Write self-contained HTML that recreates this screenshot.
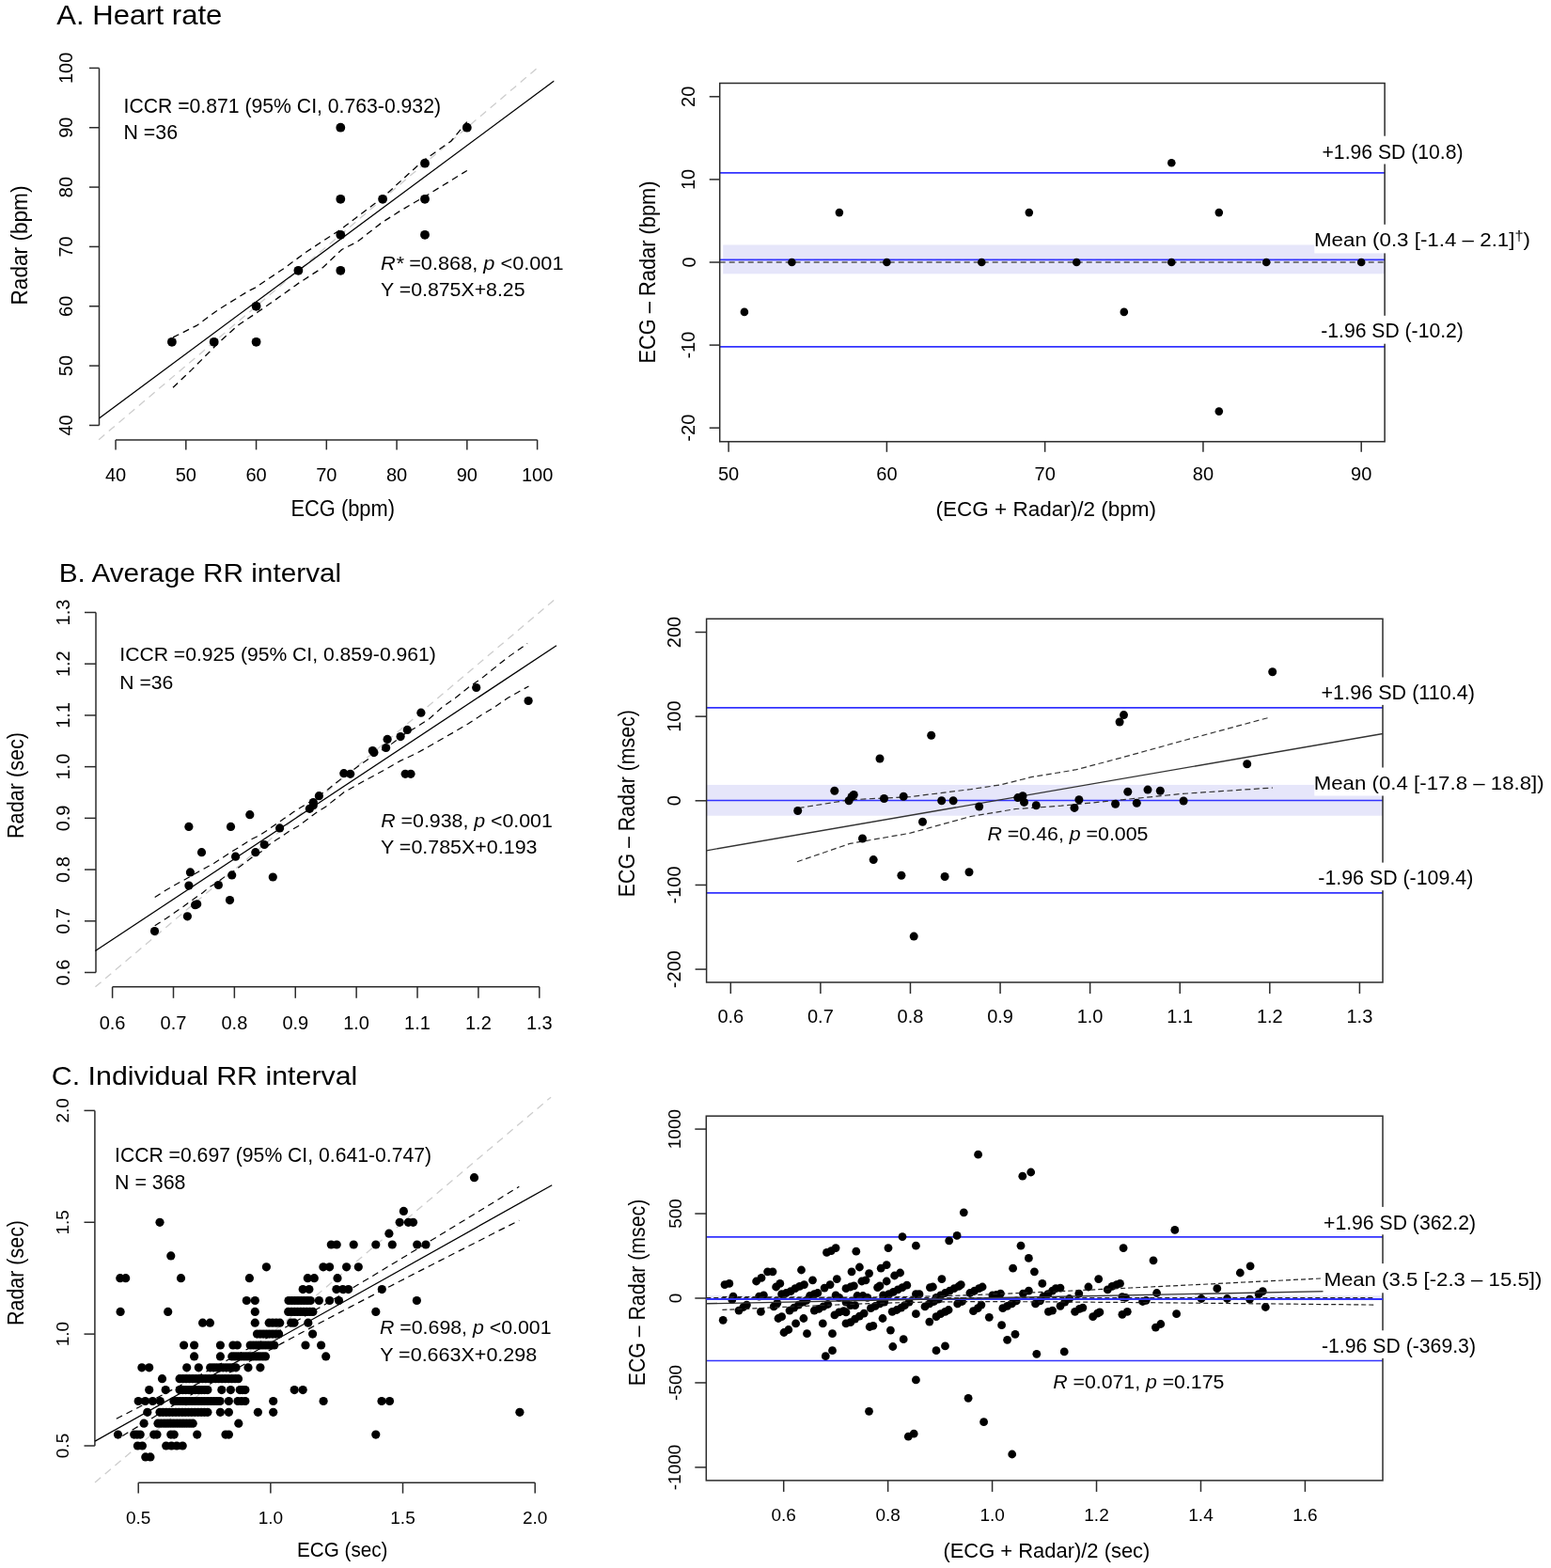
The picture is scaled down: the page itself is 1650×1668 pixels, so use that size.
<!DOCTYPE html>
<html><head><meta charset="utf-8"><title>Heart rate and RR interval agreement: ECG vs Radar</title>
<style>html,body{margin:0;padding:0;background:#fff;} svg{display:block;}</style></head>
<body>
<svg width="1650" height="1668" viewBox="0 0 1650 1668" font-family='"Liberation Sans", Arial, sans-serif' fill="#000">
<rect width="1650" height="1668" fill="#fff"/>
<text x="60.3" y="26.4" font-size="30" textLength="176.0" lengthAdjust="spacingAndGlyphs">A. Heart rate</text>
<line x1="105.50" y1="452.45" x2="105.50" y2="72.40" stroke="#2b2b2b" stroke-width="1.5"/>
<line x1="95.00" y1="452.45" x2="105.50" y2="452.45" stroke="#2b2b2b" stroke-width="1.5"/>
<text x="77.0" y="452.4" font-size="20" text-anchor="middle" transform="rotate(-90 77.0 452.4)">40</text>
<line x1="95.00" y1="389.11" x2="105.50" y2="389.11" stroke="#2b2b2b" stroke-width="1.5"/>
<text x="77.0" y="389.1" font-size="20" text-anchor="middle" transform="rotate(-90 77.0 389.1)">50</text>
<line x1="95.00" y1="325.77" x2="105.50" y2="325.77" stroke="#2b2b2b" stroke-width="1.5"/>
<text x="77.0" y="325.8" font-size="20" text-anchor="middle" transform="rotate(-90 77.0 325.8)">60</text>
<line x1="95.00" y1="262.43" x2="105.50" y2="262.43" stroke="#2b2b2b" stroke-width="1.5"/>
<text x="77.0" y="262.4" font-size="20" text-anchor="middle" transform="rotate(-90 77.0 262.4)">70</text>
<line x1="95.00" y1="199.08" x2="105.50" y2="199.08" stroke="#2b2b2b" stroke-width="1.5"/>
<text x="77.0" y="199.1" font-size="20" text-anchor="middle" transform="rotate(-90 77.0 199.1)">80</text>
<line x1="95.00" y1="135.74" x2="105.50" y2="135.74" stroke="#2b2b2b" stroke-width="1.5"/>
<text x="77.0" y="135.7" font-size="20" text-anchor="middle" transform="rotate(-90 77.0 135.7)">90</text>
<line x1="95.00" y1="72.40" x2="105.50" y2="72.40" stroke="#2b2b2b" stroke-width="1.5"/>
<text x="77.0" y="72.4" font-size="20" text-anchor="middle" transform="rotate(-90 77.0 72.4)">100</text>
<line x1="123.05" y1="467.90" x2="571.60" y2="467.90" stroke="#2b2b2b" stroke-width="1.5"/>
<line x1="123.05" y1="467.90" x2="123.05" y2="478.40" stroke="#2b2b2b" stroke-width="1.5"/>
<text x="123.1" y="511.6" font-size="20" text-anchor="middle">40</text>
<line x1="197.81" y1="467.90" x2="197.81" y2="478.40" stroke="#2b2b2b" stroke-width="1.5"/>
<text x="197.8" y="511.6" font-size="20" text-anchor="middle">50</text>
<line x1="272.57" y1="467.90" x2="272.57" y2="478.40" stroke="#2b2b2b" stroke-width="1.5"/>
<text x="272.6" y="511.6" font-size="20" text-anchor="middle">60</text>
<line x1="347.32" y1="467.90" x2="347.32" y2="478.40" stroke="#2b2b2b" stroke-width="1.5"/>
<text x="347.3" y="511.6" font-size="20" text-anchor="middle">70</text>
<line x1="422.08" y1="467.90" x2="422.08" y2="478.40" stroke="#2b2b2b" stroke-width="1.5"/>
<text x="422.1" y="511.6" font-size="20" text-anchor="middle">80</text>
<line x1="496.84" y1="467.90" x2="496.84" y2="478.40" stroke="#2b2b2b" stroke-width="1.5"/>
<text x="496.8" y="511.6" font-size="20" text-anchor="middle">90</text>
<line x1="571.60" y1="467.90" x2="571.60" y2="478.40" stroke="#2b2b2b" stroke-width="1.5"/>
<text x="571.6" y="511.6" font-size="20" text-anchor="middle">100</text>
<clipPath id="cA"><rect x="105.5" y="57.2" width="484.0" height="410.4"/></clipPath>
<line x1="105.11" y1="467.65" x2="571.60" y2="72.40" stroke="#cdcdcd" stroke-width="1.3" stroke-dasharray="8,6"/>
<g clip-path="url(#cA)">
<line x1="105.11" y1="445.17" x2="589.54" y2="86.02" stroke="#000" stroke-width="1.3"/>
</g>
<polyline points="184.0,358.9 209.1,346.4 232.7,329.1 263.6,310.0 270.9,306.4 303.6,284.5 325.5,268.2 361.8,244.5 407.3,210.0 449.1,171.8 480.0,150.0 496.8,129.6" fill="none" stroke="#000" stroke-width="1.3" stroke-dasharray="7,5"/>
<polyline points="184.0,412.3 203.6,393.6 232.7,364.5 252.7,346.4 274.5,331.8 292.7,319.1 318.2,300.9 343.6,284.5 363.6,265.5 380.0,257.3 405.5,237.3 425.5,224.5 445.5,212.7 456.4,206.4 480.0,191.8 496.8,181.5" fill="none" stroke="#000" stroke-width="1.3" stroke-dasharray="7,5"/>
<circle cx="182.9" cy="363.8" r="4.9"/>
<circle cx="227.7" cy="363.8" r="4.9"/>
<circle cx="272.6" cy="363.8" r="4.9"/>
<circle cx="272.6" cy="325.8" r="4.9"/>
<circle cx="317.4" cy="287.8" r="4.9"/>
<circle cx="362.3" cy="287.8" r="4.9"/>
<circle cx="362.3" cy="249.8" r="4.9"/>
<circle cx="362.3" cy="211.8" r="4.9"/>
<circle cx="362.3" cy="135.7" r="4.9"/>
<circle cx="407.1" cy="211.8" r="4.9"/>
<circle cx="452.0" cy="211.8" r="4.9"/>
<circle cx="452.0" cy="249.8" r="4.9"/>
<circle cx="452.0" cy="173.7" r="4.9"/>
<circle cx="496.8" cy="135.7" r="4.9"/>
<text x="131.5" y="119.8" font-size="21.7" textLength="337.5" lengthAdjust="spacingAndGlyphs">ICCR =0.871 (95% CI, 0.763-0.932)</text>
<text x="131.5" y="148.0" font-size="21.7" textLength="57.5" lengthAdjust="spacingAndGlyphs">N =36</text>
<text x="405.0" y="286.7" font-size="21" textLength="194.5" lengthAdjust="spacingAndGlyphs"><tspan font-style="italic">R*</tspan> =0.868, <tspan font-style="italic">p</tspan> &lt;0.001</text>
<text x="405.0" y="315.3" font-size="21" textLength="153.5" lengthAdjust="spacingAndGlyphs">Y =0.875X+8.25</text>
<text x="309.5" y="548.5" font-size="23" textLength="110.5" lengthAdjust="spacingAndGlyphs">ECG (bpm)</text>
<text x="29.3" y="261.0" font-size="23" text-anchor="middle" textLength="127.0" lengthAdjust="spacingAndGlyphs" transform="rotate(-90 29.3 261.0)">Radar (bpm)</text>
<clipPath id="cAr"><rect x="765.7" y="88.5" width="707.4" height="381.3"/></clipPath>
<rect x="769.2" y="260.5" width="703.9" height="30.8" fill="#e6e6fa"/>
<line x1="765.70" y1="183.85" x2="1473.10" y2="183.85" stroke="#3333ff" stroke-width="1.6"/>
<line x1="765.70" y1="368.86" x2="1473.10" y2="368.86" stroke="#3333ff" stroke-width="1.6"/>
<line x1="765.70" y1="276.36" x2="1473.10" y2="276.36" stroke="#3333ff" stroke-width="1.6"/>
<line x1="765.70" y1="279.00" x2="1473.10" y2="279.00" stroke="#555" stroke-width="1.3" stroke-dasharray="6,4"/>
<rect x="765.7" y="88.5" width="707.4" height="381.3" fill="none" stroke="#2b2b2b" stroke-width="1.5"/>
<line x1="754.70" y1="455.20" x2="765.70" y2="455.20" stroke="#2b2b2b" stroke-width="1.5"/>
<text x="739.5" y="455.2" font-size="20" text-anchor="middle" transform="rotate(-90 739.5 455.2)">-20</text>
<line x1="754.70" y1="367.10" x2="765.70" y2="367.10" stroke="#2b2b2b" stroke-width="1.5"/>
<text x="739.5" y="367.1" font-size="20" text-anchor="middle" transform="rotate(-90 739.5 367.1)">-10</text>
<line x1="754.70" y1="279.00" x2="765.70" y2="279.00" stroke="#2b2b2b" stroke-width="1.5"/>
<text x="739.5" y="279.0" font-size="20" text-anchor="middle" transform="rotate(-90 739.5 279.0)">0</text>
<line x1="754.70" y1="190.90" x2="765.70" y2="190.90" stroke="#2b2b2b" stroke-width="1.5"/>
<text x="739.5" y="190.9" font-size="20" text-anchor="middle" transform="rotate(-90 739.5 190.9)">10</text>
<line x1="754.70" y1="102.80" x2="765.70" y2="102.80" stroke="#2b2b2b" stroke-width="1.5"/>
<text x="739.5" y="102.8" font-size="20" text-anchor="middle" transform="rotate(-90 739.5 102.8)">20</text>
<line x1="775.10" y1="469.80" x2="775.10" y2="480.80" stroke="#2b2b2b" stroke-width="1.5"/>
<text x="775.1" y="511.0" font-size="20" text-anchor="middle">50</text>
<line x1="943.38" y1="469.80" x2="943.38" y2="480.80" stroke="#2b2b2b" stroke-width="1.5"/>
<text x="943.4" y="511.0" font-size="20" text-anchor="middle">60</text>
<line x1="1111.65" y1="469.80" x2="1111.65" y2="480.80" stroke="#2b2b2b" stroke-width="1.5"/>
<text x="1111.7" y="511.0" font-size="20" text-anchor="middle">70</text>
<line x1="1279.93" y1="469.80" x2="1279.93" y2="480.80" stroke="#2b2b2b" stroke-width="1.5"/>
<text x="1279.9" y="511.0" font-size="20" text-anchor="middle">80</text>
<line x1="1448.20" y1="469.80" x2="1448.20" y2="480.80" stroke="#2b2b2b" stroke-width="1.5"/>
<text x="1448.2" y="511.0" font-size="20" text-anchor="middle">90</text>
<circle cx="791.9" cy="331.9" r="4.3"/>
<circle cx="842.4" cy="279.0" r="4.3"/>
<circle cx="892.9" cy="226.1" r="4.3"/>
<circle cx="943.4" cy="279.0" r="4.3"/>
<circle cx="1044.3" cy="279.0" r="4.3"/>
<circle cx="1094.8" cy="226.1" r="4.3"/>
<circle cx="1145.3" cy="279.0" r="4.3"/>
<circle cx="1195.8" cy="331.9" r="4.3"/>
<circle cx="1246.3" cy="173.3" r="4.3"/>
<circle cx="1246.3" cy="279.0" r="4.3"/>
<circle cx="1296.8" cy="226.1" r="4.3"/>
<circle cx="1296.8" cy="437.6" r="4.3"/>
<circle cx="1347.2" cy="279.0" r="4.3"/>
<circle cx="1448.2" cy="279.0" r="4.3"/>
<rect x="1404.0" y="144.7" width="156.0" height="29.8" fill="#fff"/>
<text x="1406.5" y="168.9" font-size="22" textLength="150.0" lengthAdjust="spacingAndGlyphs">+1.96 SD (10.8)</text>
<rect x="1398.3" y="238.8" width="233.7" height="30.6" fill="#fff"/>
<text x="1398.0" y="262.2" font-size="20.5" textLength="230" lengthAdjust="spacingAndGlyphs">Mean (0.3 [-1.4 – 2.1]<tspan font-size="15" dy="-6">†</tspan><tspan dy="6">)</tspan></text>
<rect x="1403.0" y="335.8" width="157.0" height="29.9" fill="#fff"/>
<text x="1405.3" y="358.6" font-size="22" textLength="151.5" lengthAdjust="spacingAndGlyphs">-1.96 SD (-10.2)</text>
<text x="995.6" y="548.5" font-size="22.5" textLength="234.5" lengthAdjust="spacingAndGlyphs">(ECG + Radar)/2 (bpm)</text>
<text x="697.0" y="289.5" font-size="24" text-anchor="middle" textLength="194.0" lengthAdjust="spacingAndGlyphs" transform="rotate(-90 697.0 289.5)">ECG – Radar (bpm)</text>
<text x="62.7" y="619.3" font-size="28" textLength="300.5" lengthAdjust="spacingAndGlyphs">B. Average RR interval</text>
<line x1="102.00" y1="1034.50" x2="102.00" y2="651.50" stroke="#2b2b2b" stroke-width="1.5"/>
<line x1="90.00" y1="1034.50" x2="102.00" y2="1034.50" stroke="#2b2b2b" stroke-width="1.5"/>
<text x="73.8" y="1034.5" font-size="20" text-anchor="middle" transform="rotate(-90 73.8 1034.5)">0.6</text>
<line x1="90.00" y1="979.79" x2="102.00" y2="979.79" stroke="#2b2b2b" stroke-width="1.5"/>
<text x="73.8" y="979.8" font-size="20" text-anchor="middle" transform="rotate(-90 73.8 979.8)">0.7</text>
<line x1="90.00" y1="925.07" x2="102.00" y2="925.07" stroke="#2b2b2b" stroke-width="1.5"/>
<text x="73.8" y="925.1" font-size="20" text-anchor="middle" transform="rotate(-90 73.8 925.1)">0.8</text>
<line x1="90.00" y1="870.36" x2="102.00" y2="870.36" stroke="#2b2b2b" stroke-width="1.5"/>
<text x="73.8" y="870.4" font-size="20" text-anchor="middle" transform="rotate(-90 73.8 870.4)">0.9</text>
<line x1="90.00" y1="815.64" x2="102.00" y2="815.64" stroke="#2b2b2b" stroke-width="1.5"/>
<text x="73.8" y="815.6" font-size="20" text-anchor="middle" transform="rotate(-90 73.8 815.6)">1.0</text>
<line x1="90.00" y1="760.93" x2="102.00" y2="760.93" stroke="#2b2b2b" stroke-width="1.5"/>
<text x="73.8" y="760.9" font-size="20" text-anchor="middle" transform="rotate(-90 73.8 760.9)">1.1</text>
<line x1="90.00" y1="706.21" x2="102.00" y2="706.21" stroke="#2b2b2b" stroke-width="1.5"/>
<text x="73.8" y="706.2" font-size="20" text-anchor="middle" transform="rotate(-90 73.8 706.2)">1.2</text>
<line x1="90.00" y1="651.50" x2="102.00" y2="651.50" stroke="#2b2b2b" stroke-width="1.5"/>
<text x="73.8" y="651.5" font-size="20" text-anchor="middle" transform="rotate(-90 73.8 651.5)">1.3</text>
<line x1="119.60" y1="1049.80" x2="573.80" y2="1049.80" stroke="#2b2b2b" stroke-width="1.5"/>
<line x1="119.60" y1="1049.80" x2="119.60" y2="1061.80" stroke="#2b2b2b" stroke-width="1.5"/>
<text x="119.6" y="1094.6" font-size="20" text-anchor="middle">0.6</text>
<line x1="184.49" y1="1049.80" x2="184.49" y2="1061.80" stroke="#2b2b2b" stroke-width="1.5"/>
<text x="184.5" y="1094.6" font-size="20" text-anchor="middle">0.7</text>
<line x1="249.37" y1="1049.80" x2="249.37" y2="1061.80" stroke="#2b2b2b" stroke-width="1.5"/>
<text x="249.4" y="1094.6" font-size="20" text-anchor="middle">0.8</text>
<line x1="314.26" y1="1049.80" x2="314.26" y2="1061.80" stroke="#2b2b2b" stroke-width="1.5"/>
<text x="314.3" y="1094.6" font-size="20" text-anchor="middle">0.9</text>
<line x1="379.14" y1="1049.80" x2="379.14" y2="1061.80" stroke="#2b2b2b" stroke-width="1.5"/>
<text x="379.1" y="1094.6" font-size="20" text-anchor="middle">1.0</text>
<line x1="444.03" y1="1049.80" x2="444.03" y2="1061.80" stroke="#2b2b2b" stroke-width="1.5"/>
<text x="444.0" y="1094.6" font-size="20" text-anchor="middle">1.1</text>
<line x1="508.91" y1="1049.80" x2="508.91" y2="1061.80" stroke="#2b2b2b" stroke-width="1.5"/>
<text x="508.9" y="1094.6" font-size="20" text-anchor="middle">1.2</text>
<line x1="573.80" y1="1049.80" x2="573.80" y2="1061.80" stroke="#2b2b2b" stroke-width="1.5"/>
<text x="573.8" y="1094.6" font-size="20" text-anchor="middle">1.3</text>
<line x1="101.43" y1="1049.82" x2="593.27" y2="635.09" stroke="#cdcdcd" stroke-width="1.3" stroke-dasharray="8,6"/>
<line x1="101.43" y1="1011.51" x2="591.97" y2="686.80" stroke="#000" stroke-width="1.3"/>
<polyline points="164.7,954.5 176.8,946.7 187.7,940.6 197.4,935.2 205.9,930.3 216.8,924.2 227.7,918.2 237.4,912.1 247.1,905.5 255.6,900.6 266.5,893.3 276.2,888.5 284.7,883.0 293.2,877.0 302.9,870.3 312.6,863.6 322.3,857.6 329.5,853.3 349.2,839.4 365.9,826.1 381.2,815.0 398.0,803.1 414.7,792.7 431.4,780.1 442.6,773.8 456.5,764.8 470.5,752.2 484.4,742.5 498.3,731.3 512.3,721.6 526.2,710.4 540.1,699.3 561.1,684.6" fill="none" stroke="#000" stroke-width="1.2" stroke-dasharray="7,5"/>
<polyline points="164.7,984.8 176.8,977.0 186.5,970.3 196.2,963.6 205.9,956.4 215.6,949.7 222.9,943.6 230.2,939.4 239.8,932.1 249.5,926.1 259.2,918.8 268.9,911.5 278.6,905.5 288.3,897.0 298.0,890.9 307.7,884.2 317.4,878.8 327.1,871.5 336.8,864.2 346.5,858.2 365.9,842.8 386.8,831.0 407.7,819.8 425.8,809.4 442.6,801.7 463.5,789.9 484.4,778.0 498.3,769.7 512.3,760.6 526.2,752.2 540.1,742.5 551.3,736.2 562.5,729.9" fill="none" stroke="#000" stroke-width="1.2" stroke-dasharray="7,5"/>
<circle cx="164.5" cy="990.6" r="4.6"/>
<circle cx="199.4" cy="974.8" r="4.6"/>
<circle cx="207.6" cy="962.7" r="4.6"/>
<circle cx="209.7" cy="961.8" r="4.6"/>
<circle cx="244.5" cy="957.6" r="4.6"/>
<circle cx="200.9" cy="942.1" r="4.6"/>
<circle cx="232.4" cy="941.5" r="4.6"/>
<circle cx="202.4" cy="927.9" r="4.6"/>
<circle cx="246.7" cy="930.9" r="4.6"/>
<circle cx="290.3" cy="933.0" r="4.6"/>
<circle cx="214.5" cy="906.7" r="4.6"/>
<circle cx="250.6" cy="911.2" r="4.6"/>
<circle cx="271.8" cy="906.7" r="4.6"/>
<circle cx="281.2" cy="898.5" r="4.6"/>
<circle cx="297.6" cy="880.9" r="4.6"/>
<circle cx="200.9" cy="879.4" r="4.6"/>
<circle cx="245.5" cy="879.4" r="4.6"/>
<circle cx="265.8" cy="866.7" r="4.6"/>
<circle cx="329.4" cy="860.3" r="4.6"/>
<circle cx="333.3" cy="856.7" r="4.6"/>
<circle cx="333.3" cy="853.6" r="4.6"/>
<circle cx="339.4" cy="846.7" r="4.6"/>
<circle cx="365.8" cy="822.7" r="4.6"/>
<circle cx="372.7" cy="823.3" r="4.6"/>
<circle cx="396.4" cy="798.5" r="4.6"/>
<circle cx="397.9" cy="800.6" r="4.6"/>
<circle cx="410.6" cy="795.5" r="4.6"/>
<circle cx="412.1" cy="786.4" r="4.6"/>
<circle cx="426.1" cy="783.6" r="4.6"/>
<circle cx="433.3" cy="776.4" r="4.6"/>
<circle cx="431.2" cy="823.3" r="4.6"/>
<circle cx="437.0" cy="823.3" r="4.6"/>
<circle cx="447.9" cy="758.2" r="4.6"/>
<circle cx="506.7" cy="731.5" r="4.6"/>
<circle cx="562.1" cy="745.5" r="4.6"/>
<text x="127.3" y="703.3" font-size="20" textLength="336.5" lengthAdjust="spacingAndGlyphs">ICCR =0.925 (95% CI, 0.859-0.961)</text>
<text x="127.3" y="732.5" font-size="20" textLength="57.0" lengthAdjust="spacingAndGlyphs">N =36</text>
<text x="405.3" y="879.8" font-size="20.5" textLength="182.5" lengthAdjust="spacingAndGlyphs"><tspan font-style="italic">R</tspan> =0.938, <tspan font-style="italic">p</tspan> &lt;0.001</text>
<text x="405.0" y="908.3" font-size="20.5" textLength="166.5" lengthAdjust="spacingAndGlyphs">Y =0.785X+0.193</text>
<text x="24.7" y="835.5" font-size="23.5" text-anchor="middle" textLength="113.0" lengthAdjust="spacingAndGlyphs" transform="rotate(-90 24.7 835.5)">Radar (sec)</text>
<rect x="751.6" y="834.9" width="719.4" height="32.8" fill="#e6e6fa"/>
<line x1="751.60" y1="752.83" x2="1471.00" y2="752.83" stroke="#3333ff" stroke-width="1.6"/>
<line x1="751.60" y1="949.88" x2="1471.00" y2="949.88" stroke="#3333ff" stroke-width="1.6"/>
<line x1="751.60" y1="851.44" x2="1471.00" y2="851.44" stroke="#3333ff" stroke-width="1.6"/>
<rect x="751.6" y="658.3" width="719.4" height="386.7" fill="none" stroke="#2b2b2b" stroke-width="1.5"/>
<line x1="739.60" y1="1031.10" x2="751.60" y2="1031.10" stroke="#2b2b2b" stroke-width="1.5"/>
<text x="724.4" y="1031.1" font-size="20" text-anchor="middle" transform="rotate(-90 724.4 1031.1)">-200</text>
<line x1="739.60" y1="941.45" x2="751.60" y2="941.45" stroke="#2b2b2b" stroke-width="1.5"/>
<text x="724.4" y="941.4" font-size="20" text-anchor="middle" transform="rotate(-90 724.4 941.4)">-100</text>
<line x1="739.60" y1="851.80" x2="751.60" y2="851.80" stroke="#2b2b2b" stroke-width="1.5"/>
<text x="724.4" y="851.8" font-size="20" text-anchor="middle" transform="rotate(-90 724.4 851.8)">0</text>
<line x1="739.60" y1="762.15" x2="751.60" y2="762.15" stroke="#2b2b2b" stroke-width="1.5"/>
<text x="724.4" y="762.1" font-size="20" text-anchor="middle" transform="rotate(-90 724.4 762.1)">100</text>
<line x1="739.60" y1="672.50" x2="751.60" y2="672.50" stroke="#2b2b2b" stroke-width="1.5"/>
<text x="724.4" y="672.5" font-size="20" text-anchor="middle" transform="rotate(-90 724.4 672.5)">200</text>
<line x1="777.30" y1="1045.00" x2="777.30" y2="1057.00" stroke="#2b2b2b" stroke-width="1.5"/>
<text x="777.3" y="1087.7" font-size="20" text-anchor="middle">0.6</text>
<line x1="872.89" y1="1045.00" x2="872.89" y2="1057.00" stroke="#2b2b2b" stroke-width="1.5"/>
<text x="872.9" y="1087.7" font-size="20" text-anchor="middle">0.7</text>
<line x1="968.47" y1="1045.00" x2="968.47" y2="1057.00" stroke="#2b2b2b" stroke-width="1.5"/>
<text x="968.5" y="1087.7" font-size="20" text-anchor="middle">0.8</text>
<line x1="1064.06" y1="1045.00" x2="1064.06" y2="1057.00" stroke="#2b2b2b" stroke-width="1.5"/>
<text x="1064.1" y="1087.7" font-size="20" text-anchor="middle">0.9</text>
<line x1="1159.64" y1="1045.00" x2="1159.64" y2="1057.00" stroke="#2b2b2b" stroke-width="1.5"/>
<text x="1159.6" y="1087.7" font-size="20" text-anchor="middle">1.0</text>
<line x1="1255.23" y1="1045.00" x2="1255.23" y2="1057.00" stroke="#2b2b2b" stroke-width="1.5"/>
<text x="1255.2" y="1087.7" font-size="20" text-anchor="middle">1.1</text>
<line x1="1350.81" y1="1045.00" x2="1350.81" y2="1057.00" stroke="#2b2b2b" stroke-width="1.5"/>
<text x="1350.8" y="1087.7" font-size="20" text-anchor="middle">1.2</text>
<line x1="1446.40" y1="1045.00" x2="1446.40" y2="1057.00" stroke="#2b2b2b" stroke-width="1.5"/>
<text x="1446.4" y="1087.7" font-size="20" text-anchor="middle">1.3</text>
<line x1="751.60" y1="904.80" x2="1471.00" y2="780.50" stroke="#333" stroke-width="1.3"/>
<polyline points="849.6,859.5 904.2,850.8 968.5,847.6 1032.7,839.6 1064.9,834.8 1097.0,826.7 1145.2,818.7 1193.4,805.9 1257.6,788.2 1350.8,763.1" fill="none" stroke="#333" stroke-width="1.2" stroke-dasharray="6,3.5"/>
<polyline points="848.0,916.7 904.2,897.4 968.5,886.2 1032.7,868.5 1080.9,860.5 1129.1,857.2 1193.4,850.8 1257.6,844.4 1354.0,838.0" fill="none" stroke="#333" stroke-width="1.2" stroke-dasharray="6,3.5"/>
<circle cx="848.7" cy="862.5" r="4.5"/>
<circle cx="887.8" cy="841.3" r="4.5"/>
<circle cx="903.1" cy="851.8" r="4.5"/>
<circle cx="906.1" cy="847.5" r="4.5"/>
<circle cx="908.3" cy="845.5" r="4.5"/>
<circle cx="936.0" cy="807.0" r="4.5"/>
<circle cx="940.5" cy="849.5" r="4.5"/>
<circle cx="961.2" cy="847.3" r="4.5"/>
<circle cx="990.7" cy="782.2" r="4.5"/>
<circle cx="1001.7" cy="851.8" r="4.5"/>
<circle cx="1014.1" cy="851.8" r="4.5"/>
<circle cx="1041.7" cy="858.0" r="4.5"/>
<circle cx="981.5" cy="874.2" r="4.5"/>
<circle cx="917.5" cy="892.0" r="4.5"/>
<circle cx="929.2" cy="914.6" r="4.5"/>
<circle cx="958.9" cy="931.2" r="4.5"/>
<circle cx="1005.1" cy="932.5" r="4.5"/>
<circle cx="1031.0" cy="927.8" r="4.5"/>
<circle cx="972.2" cy="996.1" r="4.5"/>
<circle cx="1353.7" cy="714.8" r="4.5"/>
<circle cx="1195.5" cy="760.6" r="4.5"/>
<circle cx="1191.1" cy="768.0" r="4.5"/>
<circle cx="1326.7" cy="812.8" r="4.5"/>
<circle cx="1082.8" cy="848.6" r="4.5"/>
<circle cx="1088.0" cy="846.8" r="4.5"/>
<circle cx="1089.5" cy="853.4" r="4.5"/>
<circle cx="1102.3" cy="856.8" r="4.5"/>
<circle cx="1143.0" cy="859.4" r="4.5"/>
<circle cx="1147.9" cy="850.8" r="4.5"/>
<circle cx="1186.6" cy="855.3" r="4.5"/>
<circle cx="1199.8" cy="842.3" r="4.5"/>
<circle cx="1209.3" cy="854.2" r="4.5"/>
<circle cx="1221.0" cy="840.1" r="4.5"/>
<circle cx="1234.3" cy="841.2" r="4.5"/>
<circle cx="1259.1" cy="852.0" r="4.5"/>
<rect x="1404.5" y="720.5" width="167.5" height="29.4" fill="#fff"/>
<text x="1405.5" y="743.9" font-size="22" textLength="163.5" lengthAdjust="spacingAndGlyphs">+1.96 SD (110.4)</text>
<rect x="1398.3" y="816.5" width="247.7" height="30.0" fill="#fff"/>
<text x="1397.7" y="840.4" font-size="21" textLength="245.0" lengthAdjust="spacingAndGlyphs">Mean (0.4 [-17.8 – 18.8])</text>
<rect x="1400.5" y="917.6" width="169.5" height="29.6" fill="#fff"/>
<text x="1402.3" y="941.4" font-size="22" textLength="165.0" lengthAdjust="spacingAndGlyphs">-1.96 SD (-109.4)</text>
<text x="1050.5" y="894.0" font-size="20.5" textLength="171.0" lengthAdjust="spacingAndGlyphs"><tspan font-style="italic">R</tspan> =0.46, <tspan font-style="italic">p</tspan> =0.005</text>
<text x="675.5" y="854.7" font-size="23.5" text-anchor="middle" textLength="199.0" lengthAdjust="spacingAndGlyphs" transform="rotate(-90 675.5 854.7)">ECG – Radar (msec)</text>
<text x="54.8" y="1153.8" font-size="28.5" textLength="325.5" lengthAdjust="spacingAndGlyphs">C. Individual RR interval</text>
<line x1="100.90" y1="1538.00" x2="100.90" y2="1181.40" stroke="#2b2b2b" stroke-width="1.5"/>
<line x1="89.50" y1="1538.00" x2="100.90" y2="1538.00" stroke="#2b2b2b" stroke-width="1.5"/>
<text x="73.2" y="1538.0" font-size="19" text-anchor="middle" transform="rotate(-90 73.2 1538.0)">0.5</text>
<line x1="89.50" y1="1419.13" x2="100.90" y2="1419.13" stroke="#2b2b2b" stroke-width="1.5"/>
<text x="73.2" y="1419.1" font-size="19" text-anchor="middle" transform="rotate(-90 73.2 1419.1)">1.0</text>
<line x1="89.50" y1="1300.27" x2="100.90" y2="1300.27" stroke="#2b2b2b" stroke-width="1.5"/>
<text x="73.2" y="1300.3" font-size="19" text-anchor="middle" transform="rotate(-90 73.2 1300.3)">1.5</text>
<line x1="89.50" y1="1181.40" x2="100.90" y2="1181.40" stroke="#2b2b2b" stroke-width="1.5"/>
<text x="73.2" y="1181.4" font-size="19" text-anchor="middle" transform="rotate(-90 73.2 1181.4)">2.0</text>
<line x1="147.20" y1="1577.20" x2="569.20" y2="1577.20" stroke="#2b2b2b" stroke-width="1.5"/>
<line x1="147.20" y1="1577.20" x2="147.20" y2="1588.60" stroke="#2b2b2b" stroke-width="1.5"/>
<text x="147.2" y="1621.2" font-size="19" text-anchor="middle">0.5</text>
<line x1="287.87" y1="1577.20" x2="287.87" y2="1588.60" stroke="#2b2b2b" stroke-width="1.5"/>
<text x="287.9" y="1621.2" font-size="19" text-anchor="middle">1.0</text>
<line x1="428.53" y1="1577.20" x2="428.53" y2="1588.60" stroke="#2b2b2b" stroke-width="1.5"/>
<text x="428.5" y="1621.2" font-size="19" text-anchor="middle">1.5</text>
<line x1="569.20" y1="1577.20" x2="569.20" y2="1588.60" stroke="#2b2b2b" stroke-width="1.5"/>
<text x="569.2" y="1621.2" font-size="19" text-anchor="middle">2.0</text>
<line x1="101.06" y1="1576.99" x2="586.08" y2="1167.14" stroke="#cdcdcd" stroke-width="1.3" stroke-dasharray="8,6"/>
<line x1="101.06" y1="1533.06" x2="587.21" y2="1260.70" stroke="#000" stroke-width="1.3"/>
<polyline points="123.8,1509.3 134.6,1503.7 145.3,1498.2 156.0,1492.6 166.7,1487.0 177.4,1481.4 188.1,1475.8 198.8,1470.1 209.5,1464.4 220.3,1458.6 231.0,1452.8 241.7,1447.0 252.4,1441.1 263.1,1435.2 273.8,1429.2 284.5,1423.1 295.2,1417.0 305.9,1410.8 316.7,1404.6 327.4,1398.4 338.1,1392.1 348.8,1385.8 359.5,1379.4 370.2,1373.0 380.9,1366.6 391.6,1360.2 402.4,1353.7 413.1,1347.2 423.8,1340.8 434.5,1334.3 445.2,1327.7 455.9,1321.2 466.6,1314.7 477.3,1308.2 488.0,1301.6 498.8,1295.1 509.5,1288.5 520.2,1282.0 530.9,1275.4 541.6,1268.8 552.3,1262.3" fill="none" stroke="#000" stroke-width="1.2" stroke-dasharray="7,5"/>
<polyline points="130.3,1527.4 140.9,1521.1 151.4,1514.7 162.0,1508.4 172.5,1502.1 183.1,1495.8 193.6,1489.6 204.2,1483.3 214.7,1477.2 225.3,1471.0 235.8,1464.9 246.4,1458.9 256.9,1452.9 267.5,1447.0 278.0,1441.1 288.6,1435.2 299.1,1429.4 309.7,1423.7 320.2,1418.0 330.8,1412.4 341.3,1406.7 351.9,1401.2 362.4,1395.6 373.0,1390.1 383.5,1384.6 394.1,1379.1 404.6,1373.6 415.2,1368.2 425.7,1362.8 436.3,1357.3 446.8,1351.9 457.4,1346.5 467.9,1341.1 478.5,1335.8 489.0,1330.4 499.6,1325.0 510.1,1319.7 520.7,1314.3 531.2,1308.9 541.8,1303.6 552.3,1298.2" fill="none" stroke="#000" stroke-width="1.2" stroke-dasharray="7,5"/>
<circle cx="154.8" cy="1549.9" r="4.6"/>
<circle cx="159.9" cy="1549.9" r="4.6"/>
<circle cx="146.4" cy="1538.0" r="4.6"/>
<circle cx="151.4" cy="1538.0" r="4.6"/>
<circle cx="176.7" cy="1538.0" r="4.6"/>
<circle cx="182.4" cy="1538.0" r="4.6"/>
<circle cx="188.0" cy="1538.0" r="4.6"/>
<circle cx="194.2" cy="1538.0" r="4.6"/>
<circle cx="125.5" cy="1526.1" r="4.6"/>
<circle cx="142.7" cy="1526.1" r="4.6"/>
<circle cx="145.9" cy="1526.1" r="4.6"/>
<circle cx="149.2" cy="1526.1" r="4.6"/>
<circle cx="163.7" cy="1526.1" r="4.6"/>
<circle cx="167.0" cy="1526.1" r="4.6"/>
<circle cx="181.8" cy="1526.1" r="4.6"/>
<circle cx="185.2" cy="1526.1" r="4.6"/>
<circle cx="209.7" cy="1526.1" r="4.6"/>
<circle cx="240.0" cy="1526.1" r="4.6"/>
<circle cx="243.4" cy="1526.1" r="4.6"/>
<circle cx="399.8" cy="1526.1" r="4.6"/>
<circle cx="153.1" cy="1514.2" r="4.6"/>
<circle cx="168.0" cy="1514.2" r="4.6"/>
<circle cx="171.4" cy="1514.2" r="4.6"/>
<circle cx="174.8" cy="1514.2" r="4.6"/>
<circle cx="178.1" cy="1514.2" r="4.6"/>
<circle cx="181.5" cy="1514.2" r="4.6"/>
<circle cx="184.9" cy="1514.2" r="4.6"/>
<circle cx="188.3" cy="1514.2" r="4.6"/>
<circle cx="191.7" cy="1514.2" r="4.6"/>
<circle cx="195.0" cy="1514.2" r="4.6"/>
<circle cx="198.4" cy="1514.2" r="4.6"/>
<circle cx="201.8" cy="1514.2" r="4.6"/>
<circle cx="205.2" cy="1514.2" r="4.6"/>
<circle cx="253.8" cy="1514.2" r="4.6"/>
<circle cx="156.8" cy="1502.3" r="4.6"/>
<circle cx="170.0" cy="1502.3" r="4.6"/>
<circle cx="173.4" cy="1502.3" r="4.6"/>
<circle cx="176.8" cy="1502.3" r="4.6"/>
<circle cx="180.2" cy="1502.3" r="4.6"/>
<circle cx="183.6" cy="1502.3" r="4.6"/>
<circle cx="187.0" cy="1502.3" r="4.6"/>
<circle cx="190.4" cy="1502.3" r="4.6"/>
<circle cx="193.8" cy="1502.3" r="4.6"/>
<circle cx="197.1" cy="1502.3" r="4.6"/>
<circle cx="200.5" cy="1502.3" r="4.6"/>
<circle cx="203.9" cy="1502.3" r="4.6"/>
<circle cx="207.3" cy="1502.3" r="4.6"/>
<circle cx="210.7" cy="1502.3" r="4.6"/>
<circle cx="214.1" cy="1502.3" r="4.6"/>
<circle cx="217.5" cy="1502.3" r="4.6"/>
<circle cx="220.9" cy="1502.3" r="4.6"/>
<circle cx="234.4" cy="1502.3" r="4.6"/>
<circle cx="243.4" cy="1502.3" r="4.6"/>
<circle cx="274.4" cy="1502.3" r="4.6"/>
<circle cx="290.7" cy="1502.3" r="4.6"/>
<circle cx="552.9" cy="1502.3" r="4.6"/>
<circle cx="147.2" cy="1490.5" r="4.6"/>
<circle cx="154.5" cy="1490.5" r="4.6"/>
<circle cx="162.4" cy="1490.5" r="4.6"/>
<circle cx="170.3" cy="1490.5" r="4.6"/>
<circle cx="184.9" cy="1490.5" r="4.6"/>
<circle cx="188.2" cy="1490.5" r="4.6"/>
<circle cx="191.5" cy="1490.5" r="4.6"/>
<circle cx="194.7" cy="1490.5" r="4.6"/>
<circle cx="198.0" cy="1490.5" r="4.6"/>
<circle cx="201.3" cy="1490.5" r="4.6"/>
<circle cx="204.6" cy="1490.5" r="4.6"/>
<circle cx="207.9" cy="1490.5" r="4.6"/>
<circle cx="211.2" cy="1490.5" r="4.6"/>
<circle cx="214.4" cy="1490.5" r="4.6"/>
<circle cx="217.7" cy="1490.5" r="4.6"/>
<circle cx="221.0" cy="1490.5" r="4.6"/>
<circle cx="224.3" cy="1490.5" r="4.6"/>
<circle cx="227.6" cy="1490.5" r="4.6"/>
<circle cx="230.8" cy="1490.5" r="4.6"/>
<circle cx="234.1" cy="1490.5" r="4.6"/>
<circle cx="243.4" cy="1490.5" r="4.6"/>
<circle cx="253.0" cy="1490.5" r="4.6"/>
<circle cx="256.9" cy="1490.5" r="4.6"/>
<circle cx="260.9" cy="1490.5" r="4.6"/>
<circle cx="290.7" cy="1490.5" r="4.6"/>
<circle cx="344.1" cy="1490.5" r="4.6"/>
<circle cx="406.0" cy="1490.5" r="4.6"/>
<circle cx="414.5" cy="1490.5" r="4.6"/>
<circle cx="158.7" cy="1478.6" r="4.6"/>
<circle cx="176.2" cy="1478.6" r="4.6"/>
<circle cx="191.1" cy="1478.6" r="4.6"/>
<circle cx="194.4" cy="1478.6" r="4.6"/>
<circle cx="197.7" cy="1478.6" r="4.6"/>
<circle cx="201.0" cy="1478.6" r="4.6"/>
<circle cx="204.3" cy="1478.6" r="4.6"/>
<circle cx="207.7" cy="1478.6" r="4.6"/>
<circle cx="211.0" cy="1478.6" r="4.6"/>
<circle cx="214.3" cy="1478.6" r="4.6"/>
<circle cx="217.6" cy="1478.6" r="4.6"/>
<circle cx="220.9" cy="1478.6" r="4.6"/>
<circle cx="235.8" cy="1478.6" r="4.6"/>
<circle cx="245.4" cy="1478.6" r="4.6"/>
<circle cx="255.2" cy="1478.6" r="4.6"/>
<circle cx="258.0" cy="1478.6" r="4.6"/>
<circle cx="260.9" cy="1478.6" r="4.6"/>
<circle cx="313.2" cy="1478.6" r="4.6"/>
<circle cx="322.2" cy="1478.6" r="4.6"/>
<circle cx="172.5" cy="1466.7" r="4.6"/>
<circle cx="191.1" cy="1466.7" r="4.6"/>
<circle cx="194.6" cy="1466.7" r="4.6"/>
<circle cx="198.0" cy="1466.7" r="4.6"/>
<circle cx="201.5" cy="1466.7" r="4.6"/>
<circle cx="205.0" cy="1466.7" r="4.6"/>
<circle cx="208.4" cy="1466.7" r="4.6"/>
<circle cx="211.9" cy="1466.7" r="4.6"/>
<circle cx="215.4" cy="1466.7" r="4.6"/>
<circle cx="218.8" cy="1466.7" r="4.6"/>
<circle cx="222.3" cy="1466.7" r="4.6"/>
<circle cx="225.8" cy="1466.7" r="4.6"/>
<circle cx="229.3" cy="1466.7" r="4.6"/>
<circle cx="232.7" cy="1466.7" r="4.6"/>
<circle cx="236.2" cy="1466.7" r="4.6"/>
<circle cx="239.7" cy="1466.7" r="4.6"/>
<circle cx="243.1" cy="1466.7" r="4.6"/>
<circle cx="246.6" cy="1466.7" r="4.6"/>
<circle cx="250.1" cy="1466.7" r="4.6"/>
<circle cx="253.5" cy="1466.7" r="4.6"/>
<circle cx="150.9" cy="1454.8" r="4.6"/>
<circle cx="158.7" cy="1454.8" r="4.6"/>
<circle cx="198.7" cy="1454.8" r="4.6"/>
<circle cx="211.3" cy="1454.8" r="4.6"/>
<circle cx="223.7" cy="1454.8" r="4.6"/>
<circle cx="227.1" cy="1454.8" r="4.6"/>
<circle cx="230.5" cy="1454.8" r="4.6"/>
<circle cx="234.0" cy="1454.8" r="4.6"/>
<circle cx="237.4" cy="1454.8" r="4.6"/>
<circle cx="240.8" cy="1454.8" r="4.6"/>
<circle cx="244.2" cy="1454.8" r="4.6"/>
<circle cx="247.6" cy="1454.8" r="4.6"/>
<circle cx="251.0" cy="1454.8" r="4.6"/>
<circle cx="264.0" cy="1454.8" r="4.6"/>
<circle cx="276.9" cy="1454.8" r="4.6"/>
<circle cx="206.6" cy="1442.9" r="4.6"/>
<circle cx="234.4" cy="1442.9" r="4.6"/>
<circle cx="246.8" cy="1442.9" r="4.6"/>
<circle cx="250.0" cy="1442.9" r="4.6"/>
<circle cx="253.3" cy="1442.9" r="4.6"/>
<circle cx="256.5" cy="1442.9" r="4.6"/>
<circle cx="259.8" cy="1442.9" r="4.6"/>
<circle cx="263.0" cy="1442.9" r="4.6"/>
<circle cx="266.3" cy="1442.9" r="4.6"/>
<circle cx="269.5" cy="1442.9" r="4.6"/>
<circle cx="272.8" cy="1442.9" r="4.6"/>
<circle cx="276.0" cy="1442.9" r="4.6"/>
<circle cx="279.3" cy="1442.9" r="4.6"/>
<circle cx="282.5" cy="1442.9" r="4.6"/>
<circle cx="346.7" cy="1442.9" r="4.6"/>
<circle cx="195.6" cy="1431.0" r="4.6"/>
<circle cx="206.6" cy="1431.0" r="4.6"/>
<circle cx="234.4" cy="1431.0" r="4.6"/>
<circle cx="247.9" cy="1431.0" r="4.6"/>
<circle cx="252.4" cy="1431.0" r="4.6"/>
<circle cx="266.2" cy="1431.0" r="4.6"/>
<circle cx="269.4" cy="1431.0" r="4.6"/>
<circle cx="272.6" cy="1431.0" r="4.6"/>
<circle cx="275.8" cy="1431.0" r="4.6"/>
<circle cx="279.0" cy="1431.0" r="4.6"/>
<circle cx="282.2" cy="1431.0" r="4.6"/>
<circle cx="285.4" cy="1431.0" r="4.6"/>
<circle cx="288.6" cy="1431.0" r="4.6"/>
<circle cx="291.8" cy="1431.0" r="4.6"/>
<circle cx="325.0" cy="1431.0" r="4.6"/>
<circle cx="341.6" cy="1431.0" r="4.6"/>
<circle cx="273.5" cy="1419.1" r="4.6"/>
<circle cx="276.8" cy="1419.1" r="4.6"/>
<circle cx="280.1" cy="1419.1" r="4.6"/>
<circle cx="283.4" cy="1419.1" r="4.6"/>
<circle cx="286.7" cy="1419.1" r="4.6"/>
<circle cx="290.0" cy="1419.1" r="4.6"/>
<circle cx="293.3" cy="1419.1" r="4.6"/>
<circle cx="296.6" cy="1419.1" r="4.6"/>
<circle cx="332.6" cy="1419.1" r="4.6"/>
<circle cx="215.6" cy="1407.2" r="4.6"/>
<circle cx="223.4" cy="1407.2" r="4.6"/>
<circle cx="271.3" cy="1407.2" r="4.6"/>
<circle cx="286.2" cy="1407.2" r="4.6"/>
<circle cx="290.0" cy="1407.2" r="4.6"/>
<circle cx="293.9" cy="1407.2" r="4.6"/>
<circle cx="297.7" cy="1407.2" r="4.6"/>
<circle cx="309.7" cy="1407.2" r="4.6"/>
<circle cx="313.0" cy="1407.2" r="4.6"/>
<circle cx="327.8" cy="1407.2" r="4.6"/>
<circle cx="128.1" cy="1395.4" r="4.6"/>
<circle cx="178.7" cy="1395.4" r="4.6"/>
<circle cx="271.3" cy="1395.4" r="4.6"/>
<circle cx="306.7" cy="1395.4" r="4.6"/>
<circle cx="310.0" cy="1395.4" r="4.6"/>
<circle cx="313.3" cy="1395.4" r="4.6"/>
<circle cx="316.5" cy="1395.4" r="4.6"/>
<circle cx="319.8" cy="1395.4" r="4.6"/>
<circle cx="323.1" cy="1395.4" r="4.6"/>
<circle cx="326.3" cy="1395.4" r="4.6"/>
<circle cx="329.6" cy="1395.4" r="4.6"/>
<circle cx="332.9" cy="1395.4" r="4.6"/>
<circle cx="399.8" cy="1395.4" r="4.6"/>
<circle cx="262.3" cy="1383.5" r="4.6"/>
<circle cx="271.3" cy="1383.5" r="4.6"/>
<circle cx="307.0" cy="1383.5" r="4.6"/>
<circle cx="310.3" cy="1383.5" r="4.6"/>
<circle cx="313.7" cy="1383.5" r="4.6"/>
<circle cx="317.0" cy="1383.5" r="4.6"/>
<circle cx="320.3" cy="1383.5" r="4.6"/>
<circle cx="323.7" cy="1383.5" r="4.6"/>
<circle cx="327.0" cy="1383.5" r="4.6"/>
<circle cx="330.3" cy="1383.5" r="4.6"/>
<circle cx="339.4" cy="1383.5" r="4.6"/>
<circle cx="350.6" cy="1383.5" r="4.6"/>
<circle cx="360.5" cy="1383.5" r="4.6"/>
<circle cx="443.4" cy="1383.5" r="4.6"/>
<circle cx="322.2" cy="1371.6" r="4.6"/>
<circle cx="328.9" cy="1371.6" r="4.6"/>
<circle cx="357.9" cy="1371.6" r="4.6"/>
<circle cx="364.7" cy="1371.6" r="4.6"/>
<circle cx="370.6" cy="1371.6" r="4.6"/>
<circle cx="406.3" cy="1371.6" r="4.6"/>
<circle cx="127.8" cy="1359.7" r="4.6"/>
<circle cx="133.7" cy="1359.7" r="4.6"/>
<circle cx="192.5" cy="1359.7" r="4.6"/>
<circle cx="265.4" cy="1359.7" r="4.6"/>
<circle cx="327.3" cy="1359.7" r="4.6"/>
<circle cx="334.3" cy="1359.7" r="4.6"/>
<circle cx="359.0" cy="1359.7" r="4.6"/>
<circle cx="283.4" cy="1347.8" r="4.6"/>
<circle cx="343.9" cy="1347.8" r="4.6"/>
<circle cx="350.6" cy="1347.8" r="4.6"/>
<circle cx="368.6" cy="1347.8" r="4.6"/>
<circle cx="381.3" cy="1347.8" r="4.6"/>
<circle cx="181.8" cy="1335.9" r="4.6"/>
<circle cx="352.3" cy="1324.0" r="4.6"/>
<circle cx="358.2" cy="1324.0" r="4.6"/>
<circle cx="376.2" cy="1324.0" r="4.6"/>
<circle cx="399.8" cy="1324.0" r="4.6"/>
<circle cx="417.3" cy="1324.0" r="4.6"/>
<circle cx="443.7" cy="1324.0" r="4.6"/>
<circle cx="453.0" cy="1324.0" r="4.6"/>
<circle cx="413.9" cy="1312.2" r="4.6"/>
<circle cx="170.0" cy="1300.3" r="4.6"/>
<circle cx="425.2" cy="1300.3" r="4.6"/>
<circle cx="434.4" cy="1300.3" r="4.6"/>
<circle cx="439.5" cy="1300.3" r="4.6"/>
<circle cx="429.4" cy="1288.4" r="4.6"/>
<circle cx="504.5" cy="1252.7" r="4.6"/>
<text x="122.0" y="1235.7" font-size="21.5" textLength="337.0" lengthAdjust="spacingAndGlyphs">ICCR =0.697 (95% CI, 0.641-0.747)</text>
<text x="122.0" y="1264.5" font-size="21.5" textLength="75.5" lengthAdjust="spacingAndGlyphs">N = 368</text>
<text x="404.0" y="1419.0" font-size="20.5" textLength="182.5" lengthAdjust="spacingAndGlyphs"><tspan font-style="italic">R</tspan> =0.698, <tspan font-style="italic">p</tspan> &lt;0.001</text>
<text x="404.2" y="1447.7" font-size="20.5" textLength="167.0" lengthAdjust="spacingAndGlyphs">Y =0.663X+0.298</text>
<text x="316.0" y="1656.0" font-size="22.5" textLength="96.5" lengthAdjust="spacingAndGlyphs">ECG (sec)</text>
<text x="24.7" y="1354.0" font-size="23.5" text-anchor="middle" textLength="112.0" lengthAdjust="spacingAndGlyphs" transform="rotate(-90 24.7 1354.0)">Radar (sec)</text>
<clipPath id="cCr"><rect x="751.3" y="1187.2" width="719.7" height="387.7"/></clipPath>
<rect x="751.3" y="1378.2" width="719.7" height="3.2" fill="#e6e6fa"/>
<line x1="751.30" y1="1315.84" x2="1471.00" y2="1315.84" stroke="#3333ff" stroke-width="1.6"/>
<line x1="751.30" y1="1447.44" x2="1471.00" y2="1447.44" stroke="#3333ff" stroke-width="1.6"/>
<rect x="751.3" y="1187.2" width="719.7" height="387.7" fill="none" stroke="#2b2b2b" stroke-width="1.5"/>
<line x1="739.30" y1="1560.90" x2="751.30" y2="1560.90" stroke="#2b2b2b" stroke-width="1.5"/>
<text x="724.5" y="1560.9" font-size="19" text-anchor="middle" transform="rotate(-90 724.5 1560.9)">-1000</text>
<line x1="739.30" y1="1470.95" x2="751.30" y2="1470.95" stroke="#2b2b2b" stroke-width="1.5"/>
<text x="724.5" y="1471.0" font-size="19" text-anchor="middle" transform="rotate(-90 724.5 1471.0)">-500</text>
<line x1="739.30" y1="1381.00" x2="751.30" y2="1381.00" stroke="#2b2b2b" stroke-width="1.5"/>
<text x="724.5" y="1381.0" font-size="19" text-anchor="middle" transform="rotate(-90 724.5 1381.0)">0</text>
<line x1="739.30" y1="1291.05" x2="751.30" y2="1291.05" stroke="#2b2b2b" stroke-width="1.5"/>
<text x="724.5" y="1291.0" font-size="19" text-anchor="middle" transform="rotate(-90 724.5 1291.0)">500</text>
<line x1="739.30" y1="1201.10" x2="751.30" y2="1201.10" stroke="#2b2b2b" stroke-width="1.5"/>
<text x="724.5" y="1201.1" font-size="19" text-anchor="middle" transform="rotate(-90 724.5 1201.1)">1000</text>
<line x1="833.70" y1="1574.90" x2="833.70" y2="1586.90" stroke="#2b2b2b" stroke-width="1.5"/>
<text x="833.7" y="1618.0" font-size="19" text-anchor="middle">0.6</text>
<line x1="944.64" y1="1574.90" x2="944.64" y2="1586.90" stroke="#2b2b2b" stroke-width="1.5"/>
<text x="944.6" y="1618.0" font-size="19" text-anchor="middle">0.8</text>
<line x1="1055.58" y1="1574.90" x2="1055.58" y2="1586.90" stroke="#2b2b2b" stroke-width="1.5"/>
<text x="1055.6" y="1618.0" font-size="19" text-anchor="middle">1.0</text>
<line x1="1166.52" y1="1574.90" x2="1166.52" y2="1586.90" stroke="#2b2b2b" stroke-width="1.5"/>
<text x="1166.5" y="1618.0" font-size="19" text-anchor="middle">1.2</text>
<line x1="1277.46" y1="1574.90" x2="1277.46" y2="1586.90" stroke="#2b2b2b" stroke-width="1.5"/>
<text x="1277.5" y="1618.0" font-size="19" text-anchor="middle">1.4</text>
<line x1="1388.40" y1="1574.90" x2="1388.40" y2="1586.90" stroke="#2b2b2b" stroke-width="1.5"/>
<text x="1388.4" y="1618.0" font-size="19" text-anchor="middle">1.6</text>
<g clip-path="url(#cCr)">
<circle cx="771.0" cy="1366.6" r="4.4"/>
<circle cx="775.8" cy="1365.4" r="4.4"/>
<circle cx="804.6" cy="1363.0" r="4.4"/>
<circle cx="810.0" cy="1359.4" r="4.4"/>
<circle cx="816.6" cy="1352.8" r="4.4"/>
<circle cx="822.0" cy="1352.8" r="4.4"/>
<circle cx="825.6" cy="1369.0" r="4.4"/>
<circle cx="829.8" cy="1365.4" r="4.4"/>
<circle cx="852.5" cy="1351.0" r="4.4"/>
<circle cx="879.5" cy="1332.4" r="4.4"/>
<circle cx="884.3" cy="1330.6" r="4.4"/>
<circle cx="889.1" cy="1327.6" r="4.4"/>
<circle cx="864.5" cy="1361.8" r="4.4"/>
<circle cx="890.3" cy="1360.6" r="4.4"/>
<circle cx="877.1" cy="1370.1" r="4.4"/>
<circle cx="883.1" cy="1366.6" r="4.4"/>
<circle cx="780.0" cy="1379.1" r="4.4"/>
<circle cx="807.6" cy="1379.1" r="4.4"/>
<circle cx="812.4" cy="1377.9" r="4.4"/>
<circle cx="831.6" cy="1376.7" r="4.4"/>
<circle cx="836.4" cy="1375.5" r="4.4"/>
<circle cx="841.2" cy="1373.7" r="4.4"/>
<circle cx="846.0" cy="1370.7" r="4.4"/>
<circle cx="850.7" cy="1368.4" r="4.4"/>
<circle cx="855.5" cy="1366.6" r="4.4"/>
<circle cx="861.5" cy="1378.5" r="4.4"/>
<circle cx="866.3" cy="1376.7" r="4.4"/>
<circle cx="869.9" cy="1375.5" r="4.4"/>
<circle cx="889.1" cy="1377.9" r="4.4"/>
<circle cx="892.7" cy="1380.3" r="4.4"/>
<circle cx="778.8" cy="1382.7" r="4.4"/>
<circle cx="786.0" cy="1394.1" r="4.4"/>
<circle cx="790.8" cy="1390.5" r="4.4"/>
<circle cx="794.4" cy="1388.1" r="4.4"/>
<circle cx="809.4" cy="1395.3" r="4.4"/>
<circle cx="823.2" cy="1389.9" r="4.4"/>
<circle cx="826.8" cy="1386.3" r="4.4"/>
<circle cx="828.0" cy="1402.5" r="4.4"/>
<circle cx="831.6" cy="1400.7" r="4.4"/>
<circle cx="840.0" cy="1394.1" r="4.4"/>
<circle cx="844.8" cy="1391.1" r="4.4"/>
<circle cx="849.6" cy="1388.1" r="4.4"/>
<circle cx="854.3" cy="1385.1" r="4.4"/>
<circle cx="857.9" cy="1383.3" r="4.4"/>
<circle cx="866.3" cy="1394.1" r="4.4"/>
<circle cx="871.1" cy="1392.3" r="4.4"/>
<circle cx="875.9" cy="1389.9" r="4.4"/>
<circle cx="880.7" cy="1387.5" r="4.4"/>
<circle cx="887.9" cy="1398.9" r="4.4"/>
<circle cx="892.7" cy="1395.9" r="4.4"/>
<circle cx="897.5" cy="1394.7" r="4.4"/>
<circle cx="769.2" cy="1404.3" r="4.4"/>
<circle cx="834.0" cy="1417.5" r="4.4"/>
<circle cx="838.8" cy="1414.5" r="4.4"/>
<circle cx="846.6" cy="1407.9" r="4.4"/>
<circle cx="854.9" cy="1402.5" r="4.4"/>
<circle cx="858.5" cy="1418.7" r="4.4"/>
<circle cx="875.3" cy="1407.9" r="4.4"/>
<circle cx="885.5" cy="1418.7" r="4.4"/>
<circle cx="878.3" cy="1442.7" r="4.4"/>
<circle cx="885.5" cy="1436.7" r="4.4"/>
<circle cx="1025.3" cy="1289.8" r="4.4"/>
<circle cx="960.0" cy="1315.6" r="4.4"/>
<circle cx="1018.1" cy="1314.4" r="4.4"/>
<circle cx="1009.7" cy="1319.8" r="4.4"/>
<circle cx="910.8" cy="1331.2" r="4.4"/>
<circle cx="945.0" cy="1327.6" r="4.4"/>
<circle cx="974.4" cy="1325.2" r="4.4"/>
<circle cx="906.0" cy="1352.8" r="4.4"/>
<circle cx="914.4" cy="1348.0" r="4.4"/>
<circle cx="924.6" cy="1354.6" r="4.4"/>
<circle cx="937.2" cy="1349.2" r="4.4"/>
<circle cx="943.2" cy="1345.6" r="4.4"/>
<circle cx="916.8" cy="1363.0" r="4.4"/>
<circle cx="921.0" cy="1361.8" r="4.4"/>
<circle cx="900.0" cy="1370.7" r="4.4"/>
<circle cx="904.8" cy="1369.0" r="4.4"/>
<circle cx="908.4" cy="1367.8" r="4.4"/>
<circle cx="933.6" cy="1369.6" r="4.4"/>
<circle cx="936.0" cy="1367.8" r="4.4"/>
<circle cx="943.2" cy="1363.0" r="4.4"/>
<circle cx="951.6" cy="1357.0" r="4.4"/>
<circle cx="957.6" cy="1354.0" r="4.4"/>
<circle cx="1001.9" cy="1360.6" r="4.4"/>
<circle cx="989.4" cy="1369.6" r="4.4"/>
<circle cx="992.4" cy="1369.0" r="4.4"/>
<circle cx="912.0" cy="1378.5" r="4.4"/>
<circle cx="918.0" cy="1378.5" r="4.4"/>
<circle cx="922.8" cy="1380.3" r="4.4"/>
<circle cx="939.6" cy="1377.9" r="4.4"/>
<circle cx="945.6" cy="1376.7" r="4.4"/>
<circle cx="950.4" cy="1374.3" r="4.4"/>
<circle cx="955.2" cy="1371.9" r="4.4"/>
<circle cx="960.0" cy="1369.6" r="4.4"/>
<circle cx="964.8" cy="1367.2" r="4.4"/>
<circle cx="974.4" cy="1376.7" r="4.4"/>
<circle cx="978.0" cy="1376.7" r="4.4"/>
<circle cx="996.0" cy="1380.3" r="4.4"/>
<circle cx="1000.7" cy="1377.9" r="4.4"/>
<circle cx="1005.5" cy="1375.5" r="4.4"/>
<circle cx="1010.3" cy="1373.1" r="4.4"/>
<circle cx="1015.1" cy="1370.7" r="4.4"/>
<circle cx="1019.9" cy="1368.4" r="4.4"/>
<circle cx="1022.3" cy="1366.6" r="4.4"/>
<circle cx="1031.9" cy="1375.5" r="4.4"/>
<circle cx="1036.7" cy="1373.1" r="4.4"/>
<circle cx="1041.5" cy="1370.7" r="4.4"/>
<circle cx="1045.1" cy="1369.0" r="4.4"/>
<circle cx="1055.9" cy="1377.9" r="4.4"/>
<circle cx="1060.0" cy="1377.3" r="4.4"/>
<circle cx="900.0" cy="1385.1" r="4.4"/>
<circle cx="904.8" cy="1388.7" r="4.4"/>
<circle cx="909.6" cy="1388.7" r="4.4"/>
<circle cx="900.0" cy="1395.9" r="4.4"/>
<circle cx="900.0" cy="1407.9" r="4.4"/>
<circle cx="904.8" cy="1406.7" r="4.4"/>
<circle cx="909.6" cy="1403.1" r="4.4"/>
<circle cx="914.4" cy="1400.1" r="4.4"/>
<circle cx="919.2" cy="1397.1" r="4.4"/>
<circle cx="926.4" cy="1391.7" r="4.4"/>
<circle cx="931.2" cy="1389.3" r="4.4"/>
<circle cx="936.0" cy="1386.9" r="4.4"/>
<circle cx="940.8" cy="1385.1" r="4.4"/>
<circle cx="949.2" cy="1395.3" r="4.4"/>
<circle cx="954.0" cy="1393.5" r="4.4"/>
<circle cx="958.8" cy="1391.1" r="4.4"/>
<circle cx="962.4" cy="1388.7" r="4.4"/>
<circle cx="967.2" cy="1385.1" r="4.4"/>
<circle cx="974.4" cy="1397.7" r="4.4"/>
<circle cx="984.0" cy="1389.9" r="4.4"/>
<circle cx="988.8" cy="1386.9" r="4.4"/>
<circle cx="993.6" cy="1384.5" r="4.4"/>
<circle cx="998.4" cy="1382.1" r="4.4"/>
<circle cx="988.8" cy="1406.1" r="4.4"/>
<circle cx="996.0" cy="1400.7" r="4.4"/>
<circle cx="1000.7" cy="1397.7" r="4.4"/>
<circle cx="1005.5" cy="1395.3" r="4.4"/>
<circle cx="1009.1" cy="1393.5" r="4.4"/>
<circle cx="1018.7" cy="1386.9" r="4.4"/>
<circle cx="1023.5" cy="1384.5" r="4.4"/>
<circle cx="1035.5" cy="1394.7" r="4.4"/>
<circle cx="1040.3" cy="1391.7" r="4.4"/>
<circle cx="1043.9" cy="1388.1" r="4.4"/>
<circle cx="1052.3" cy="1401.3" r="4.4"/>
<circle cx="925.2" cy="1411.5" r="4.4"/>
<circle cx="928.8" cy="1410.3" r="4.4"/>
<circle cx="939.0" cy="1402.5" r="4.4"/>
<circle cx="947.4" cy="1415.1" r="4.4"/>
<circle cx="961.2" cy="1424.7" r="4.4"/>
<circle cx="949.8" cy="1432.5" r="4.4"/>
<circle cx="996.0" cy="1436.7" r="4.4"/>
<circle cx="1005.5" cy="1431.9" r="4.4"/>
<circle cx="974.4" cy="1467.9" r="4.4"/>
<circle cx="1086.0" cy="1325.2" r="4.4"/>
<circle cx="1094.4" cy="1338.4" r="4.4"/>
<circle cx="1077.6" cy="1349.2" r="4.4"/>
<circle cx="1100.4" cy="1352.8" r="4.4"/>
<circle cx="1108.8" cy="1365.4" r="4.4"/>
<circle cx="1195.1" cy="1327.6" r="4.4"/>
<circle cx="1168.7" cy="1360.6" r="4.4"/>
<circle cx="1157.9" cy="1369.0" r="4.4"/>
<circle cx="1178.3" cy="1371.9" r="4.4"/>
<circle cx="1183.1" cy="1368.4" r="4.4"/>
<circle cx="1187.9" cy="1366.6" r="4.4"/>
<circle cx="1191.5" cy="1365.4" r="4.4"/>
<circle cx="1147.8" cy="1376.1" r="4.4"/>
<circle cx="1064.4" cy="1376.1" r="4.4"/>
<circle cx="1088.4" cy="1376.1" r="4.4"/>
<circle cx="1094.4" cy="1373.1" r="4.4"/>
<circle cx="1110.0" cy="1379.1" r="4.4"/>
<circle cx="1114.8" cy="1376.7" r="4.4"/>
<circle cx="1119.6" cy="1373.1" r="4.4"/>
<circle cx="1123.2" cy="1370.7" r="4.4"/>
<circle cx="1128.0" cy="1370.1" r="4.4"/>
<circle cx="1193.9" cy="1379.7" r="4.4"/>
<circle cx="1197.5" cy="1380.3" r="4.4"/>
<circle cx="1066.8" cy="1391.7" r="4.4"/>
<circle cx="1071.6" cy="1389.3" r="4.4"/>
<circle cx="1076.4" cy="1386.9" r="4.4"/>
<circle cx="1081.2" cy="1383.9" r="4.4"/>
<circle cx="1101.6" cy="1386.9" r="4.4"/>
<circle cx="1106.4" cy="1383.9" r="4.4"/>
<circle cx="1115.4" cy="1395.3" r="4.4"/>
<circle cx="1119.6" cy="1394.1" r="4.4"/>
<circle cx="1128.0" cy="1389.3" r="4.4"/>
<circle cx="1132.8" cy="1385.1" r="4.4"/>
<circle cx="1137.6" cy="1381.5" r="4.4"/>
<circle cx="1143.6" cy="1395.3" r="4.4"/>
<circle cx="1148.4" cy="1392.3" r="4.4"/>
<circle cx="1151.9" cy="1391.1" r="4.4"/>
<circle cx="1162.7" cy="1400.7" r="4.4"/>
<circle cx="1167.5" cy="1397.1" r="4.4"/>
<circle cx="1169.9" cy="1395.9" r="4.4"/>
<circle cx="1193.9" cy="1398.3" r="4.4"/>
<circle cx="1199.3" cy="1395.3" r="4.4"/>
<circle cx="1065.6" cy="1409.7" r="4.4"/>
<circle cx="1071.6" cy="1425.3" r="4.4"/>
<circle cx="1080.0" cy="1419.3" r="4.4"/>
<circle cx="1102.8" cy="1440.3" r="4.4"/>
<circle cx="1132.2" cy="1437.9" r="4.4"/>
<circle cx="1249.8" cy="1308.4" r="4.4"/>
<circle cx="1227.0" cy="1340.8" r="4.4"/>
<circle cx="1319.3" cy="1354.0" r="4.4"/>
<circle cx="1330.1" cy="1346.8" r="4.4"/>
<circle cx="1294.8" cy="1370.7" r="4.4"/>
<circle cx="1230.6" cy="1375.5" r="4.4"/>
<circle cx="1215.6" cy="1384.5" r="4.4"/>
<circle cx="1219.2" cy="1383.3" r="4.4"/>
<circle cx="1278.0" cy="1381.5" r="4.4"/>
<circle cx="1305.5" cy="1381.5" r="4.4"/>
<circle cx="1329.5" cy="1382.1" r="4.4"/>
<circle cx="1339.1" cy="1376.7" r="4.4"/>
<circle cx="1343.3" cy="1373.7" r="4.4"/>
<circle cx="1346.3" cy="1390.5" r="4.4"/>
<circle cx="1251.6" cy="1397.7" r="4.4"/>
<circle cx="1229.4" cy="1412.1" r="4.4"/>
<circle cx="1234.8" cy="1408.5" r="4.4"/>
<circle cx="1040.6" cy="1228.2" r="4.4"/>
<circle cx="1087.8" cy="1251.2" r="4.4"/>
<circle cx="1096.7" cy="1247.0" r="4.4"/>
<circle cx="924.5" cy="1501.3" r="4.4"/>
<circle cx="1030.1" cy="1487.3" r="4.4"/>
<circle cx="1046.6" cy="1512.7" r="4.4"/>
<circle cx="966.3" cy="1528.2" r="4.4"/>
<circle cx="972.2" cy="1525.2" r="4.4"/>
<circle cx="1076.7" cy="1547.0" r="4.4"/>
</g>
<line x1="751.30" y1="1382.00" x2="1471.00" y2="1382.00" stroke="#3333ff" stroke-width="1.8"/>
<line x1="751.30" y1="1380.50" x2="1462.00" y2="1380.50" stroke="#222" stroke-width="1.2" stroke-dasharray="5,3"/>
<line x1="751.30" y1="1386.80" x2="1463.00" y2="1372.60" stroke="#333" stroke-width="1.4"/>
<polyline points="768.4,1379.5 785.8,1379.6 803.1,1379.7 820.5,1379.8 837.9,1379.9 855.2,1380.0 872.6,1380.1 890.0,1380.1 907.3,1380.1 924.7,1380.0 942.0,1379.9 959.4,1379.6 976.8,1379.3 994.1,1378.9 1011.5,1378.4 1028.9,1377.8 1046.2,1377.1 1063.6,1376.4 1081.0,1375.7 1098.3,1374.9 1115.7,1374.2 1133.1,1373.4 1150.4,1372.5 1167.8,1371.7 1185.2,1370.9 1202.5,1370.0 1219.9,1369.2 1237.3,1368.3 1254.6,1367.5 1272.0,1366.6 1289.3,1365.8 1306.7,1364.9 1324.1,1364.0 1341.4,1363.2 1358.8,1362.3 1376.2,1361.4 1393.5,1360.6 1410.9,1359.7 1428.3,1358.8 1445.6,1357.9 1463.0,1357.1" fill="none" stroke="#222" stroke-width="1.2" stroke-dasharray="5,3"/>
<polyline points="768.4,1393.4 785.8,1392.6 803.1,1391.8 820.5,1391.0 837.9,1390.2 855.2,1389.4 872.6,1388.7 890.0,1388.0 907.3,1387.3 924.7,1386.7 942.0,1386.1 959.4,1385.7 976.8,1385.3 994.1,1385.0 1011.5,1384.8 1028.9,1384.7 1046.2,1384.7 1063.6,1384.7 1081.0,1384.7 1098.3,1384.8 1115.7,1384.9 1133.1,1385.0 1150.4,1385.1 1167.8,1385.3 1185.2,1385.4 1202.5,1385.5 1219.9,1385.7 1237.3,1385.8 1254.6,1386.0 1272.0,1386.2 1289.3,1386.3 1306.7,1386.5 1324.1,1386.7 1341.4,1386.9 1358.8,1387.0 1376.2,1387.2 1393.5,1387.4 1410.9,1387.6 1428.3,1387.7 1445.6,1387.9 1463.0,1388.1" fill="none" stroke="#222" stroke-width="1.2" stroke-dasharray="5,3"/>
<rect x="1405.5" y="1283.9" width="168.5" height="29.4" fill="#fff"/>
<text x="1408.0" y="1307.8" font-size="22" textLength="162.0" lengthAdjust="spacingAndGlyphs">+1.96 SD (362.2)</text>
<rect x="1407.5" y="1344.1" width="236.5" height="31.2" fill="#fff"/>
<text x="1408.4" y="1367.7" font-size="21" textLength="232.0" lengthAdjust="spacingAndGlyphs">Mean (3.5 [-2.3 – 15.5])</text>
<rect x="1403.5" y="1415.3" width="170.5" height="29.6" fill="#fff"/>
<text x="1406.0" y="1439.4" font-size="22" textLength="164.0" lengthAdjust="spacingAndGlyphs">-1.96 SD (-369.3)</text>
<text x="1120.3" y="1476.5" font-size="20.5" textLength="182.0" lengthAdjust="spacingAndGlyphs"><tspan font-style="italic">R</tspan> =0.071, <tspan font-style="italic">p</tspan> =0.175</text>
<text x="1003.4" y="1657.0" font-size="22.5" textLength="220.0" lengthAdjust="spacingAndGlyphs">(ECG + Radar)/2 (sec)</text>
<text x="686.4" y="1375.0" font-size="23.5" text-anchor="middle" textLength="198.5" lengthAdjust="spacingAndGlyphs" transform="rotate(-90 686.4 1375.0)">ECG – Radar (msec)</text>
</svg>
</body></html>
